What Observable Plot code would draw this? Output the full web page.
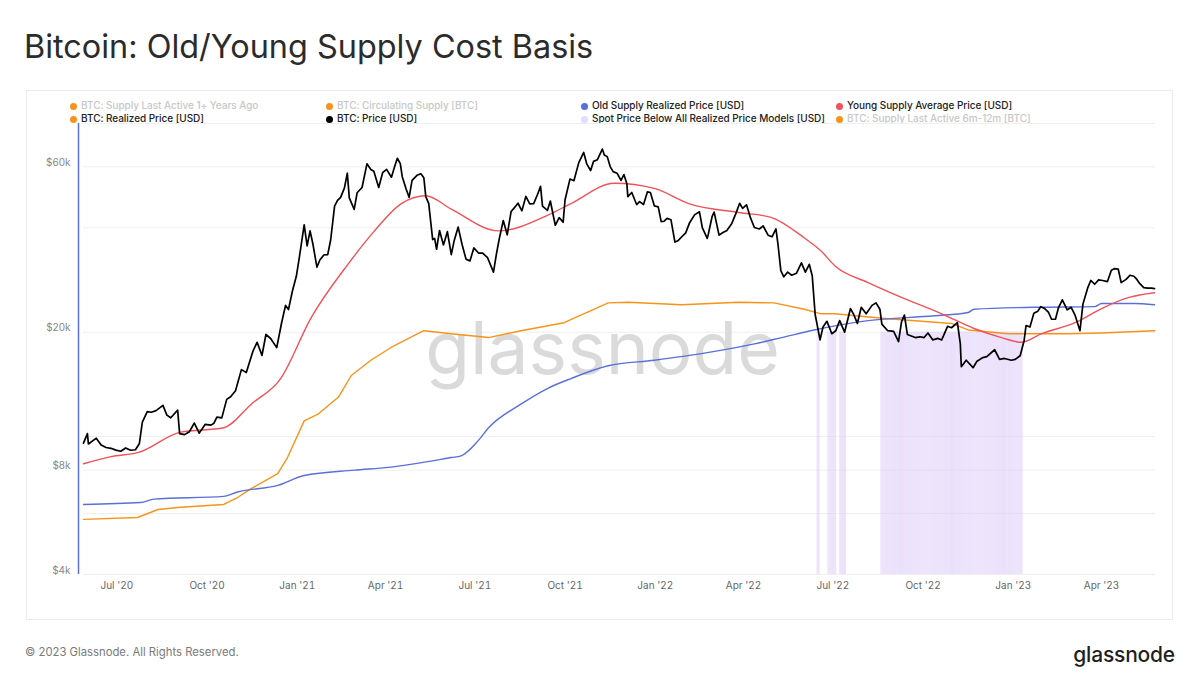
<!DOCTYPE html>
<html>
<head>
<meta charset="utf-8">
<script src="https://cdn.jsdelivr.net/npm/d3@7"></script>
<script src="https://cdn.jsdelivr.net/npm/@observablehq/plot@0.6"></script>
<style>
  html, body { margin: 0; padding: 0; background: #fff; }
  body { width: 1200px; height: 691px; position: relative; overflow: hidden; font-family: Inter, "Noto Sans", sans-serif; }
  #title { position: absolute; left: 24px; top: 28px; font-size: 32.4px; line-height: 38px; color: #2b2b2b; font-weight: 400; white-space: nowrap; }
  #box { position: absolute; left: 26px; top: 90px; width: 1147px; height: 530px; border: 1px solid #ebebeb; box-sizing: border-box; }
  #legend { position: absolute; left: 0; top: 0; }
  .li { position: absolute; font-size: 10px; line-height: 12px; font-weight: 500; white-space: nowrap; color: #222; letter-spacing: -0.05px; }
  .li.off { color: #c8c8c8; font-weight: 500; }
  .dot { display: inline-block; width: 7px; height: 7px; border-radius: 50%; margin-right: 4px; vertical-align: -0.5px; }
  #chart { position: absolute; left: 0; top: 110px; }
  #foot { position: absolute; left: 25px; top: 644px; font-size: 11.3px; line-height: 16px; color: #7a7a7a; }
  #logo { position: absolute; right: 25px; top: 641px; font-size: 21px; line-height: 28px; color: #1f1f1f; font-weight: 500; letter-spacing: -0.2px; }
</style>
</head>
<body>
<div id="title">Bitcoin: Old/Young Supply Cost Basis</div>
<div id="box"></div>
<div id="legend"></div>
<div id="chart"></div>
<div id="foot">© 2023 Glassnode. All Rights Reserved.</div>
<div id="logo">glassnode</div>
<script>
// ---------- data ----------
const price = [
["2020-05-28",9575],["2020-06-01",10200],["2020-06-02",9520],["2020-06-07",9750],["2020-06-10",9890],["2020-06-15",9450],
["2020-06-20",9300],["2020-06-25",9250],["2020-06-30",9140],["2020-07-05",9070],["2020-07-10",9270],["2020-07-15",9130],
["2020-07-20",9160],["2020-07-24",9550],["2020-07-27",11000],["2020-08-01",11800],["2020-08-05",11750],["2020-08-10",11880],
["2020-08-17",12300],["2020-08-21",11530],["2020-08-25",11330],["2020-09-01",11920],["2020-09-03",10200],["2020-09-08",10130],
["2020-09-13",10330],["2020-09-18",10940],["2020-09-23",10230],["2020-09-29",10840],["2020-10-05",10790],["2020-10-08",10930],
["2020-10-11",11380],["2020-10-16",11320],["2020-10-21",12800],["2020-10-25",13030],["2020-10-30",13550],["2020-11-05",15600],
["2020-11-10",15300],["2020-11-13",16300],["2020-11-17",17700],["2020-11-21",18700],["2020-11-26",17150],["2020-11-30",19700],
["2020-12-05",19150],["2020-12-11",18050],["2020-12-16",21300],["2020-12-20",23900],["2020-12-23",23240],["2020-12-27",26300],
["2020-12-31",29000],["2021-01-03",32780],["2021-01-08",40800],["2021-01-11",35500],["2021-01-14",39200],["2021-01-17",35800],
["2021-01-21",30800],["2021-01-24",32300],["2021-01-28",33400],["2021-02-01",33500],["2021-02-04",36900],["2021-02-08",46200],
["2021-02-11",48000],["2021-02-14",48900],["2021-02-18",52100],["2021-02-21",57500],["2021-02-23",48800],["2021-02-28",45200],
["2021-03-03",50500],["2021-03-08",52300],["2021-03-13",61200],["2021-03-17",58900],["2021-03-20",58300],["2021-03-25",52300],
["2021-03-29",57700],["2021-04-02",59000],["2021-04-07",56000],["2021-04-10",59800],["2021-04-13",63500],["2021-04-16",61300],
["2021-04-18",56200],["2021-04-22",51700],["2021-04-25",49000],["2021-04-28",54800],["2021-05-03",56700],["2021-05-07",57300],
["2021-05-10",55800],["2021-05-12",49200],["2021-05-15",47000],["2021-05-19",37000],["2021-05-21",37300],["2021-05-23",34700],
["2021-05-26",39300],["2021-05-30",35700],["2021-06-03",39000],["2021-06-07",33500],["2021-06-10",36800],["2021-06-14",40200],
["2021-06-18",35800],["2021-06-22",32500],["2021-06-26",32100],["2021-06-30",35000],["2021-07-05",33800],["2021-07-09",33800],
["2021-07-14",32800],["2021-07-20",29800],["2021-07-23",33600],["2021-07-26",37300],["2021-07-30",42000],["2021-08-03",38200],
["2021-08-07",44600],["2021-08-10",45600],["2021-08-14",47100],["2021-08-18",44800],["2021-08-22",49300],["2021-08-26",46900],
["2021-08-30",47000],["2021-09-03",50000],["2021-09-06",52700],["2021-09-08",46200],["2021-09-13",44900],["2021-09-16",47800],
["2021-09-21",40700],["2021-09-25",42800],["2021-09-29",41500],["2021-10-01",48200],["2021-10-06",55300],["2021-10-10",54700],
["2021-10-15",61700],["2021-10-20",66000],["2021-10-23",61300],["2021-10-27",58500],["2021-10-30",62200],["2021-11-03",62900],
["2021-11-08",67500],["2021-11-10",64900],["2021-11-13",64200],["2021-11-16",60100],["2021-11-19",58100],["2021-11-23",57500],
["2021-11-27",54800],["2021-11-30",57000],["2021-12-03",53600],["2021-12-04",49200],["2021-12-08",50600],["2021-12-13",46700],
["2021-12-16",47600],["2021-12-20",46700],["2021-12-24",50800],["2021-12-27",50600],["2021-12-31",46300],["2022-01-04",46000],
["2022-01-07",41700],["2022-01-10",41800],["2022-01-13",42600],["2022-01-17",42200],["2022-01-21",36400],["2022-01-24",36700],
["2022-01-28",37700],["2022-02-01",38700],["2022-02-05",41400],["2022-02-10",43600],["2022-02-15",44500],["2022-02-18",40000],
["2022-02-23",37300],["2022-02-24",38300],["2022-02-28",43200],["2022-03-02",44400],["2022-03-07",38100],["2022-03-11",38800],
["2022-03-15",39300],["2022-03-20",41200],["2022-03-24",43900],["2022-03-28",47100],["2022-03-31",45500],["2022-04-04",46600],
["2022-04-08",42800],["2022-04-12",40100],["2022-04-17",39700],["2022-04-21",40500],["2022-04-26",38100],["2022-04-30",37700],
["2022-05-04",39700],["2022-05-06",36000],["2022-05-09",30100],["2022-05-12",28900],["2022-05-16",29800],["2022-05-20",29200],
["2022-05-25",29600],["2022-05-30",31700],["2022-06-03",29800],["2022-06-07",31400],["2022-06-10",29100],["2022-06-13",22500],
["2022-06-18",19000],["2022-06-21",20700],["2022-06-25",21500],["2022-06-30",19800],["2022-07-04",20200],["2022-07-08",21600],
["2022-07-13",20000],["2022-07-19",23400],["2022-07-22",22600],["2022-07-26",21200],["2022-07-30",23600],["2022-08-04",22600],
["2022-08-10",23900],["2022-08-14",24300],["2022-08-18",23300],["2022-08-20",21100],["2022-08-26",20200],["2022-09-01",20100],
["2022-09-06",18800],["2022-09-09",21400],["2022-09-12",22400],["2022-09-15",19700],["2022-09-19",19500],["2022-09-23",19300],
["2022-09-28",19400],["2022-10-02",19300],["2022-10-06",19900],["2022-10-11",19000],["2022-10-16",19200],["2022-10-20",19000],
["2022-10-26",20800],["2022-10-30",20600],["2022-11-05",21300],["2022-11-08",18500],["2022-11-09",15900],["2022-11-14",16600],
["2022-11-21",15800],["2022-11-25",16500],["2022-12-01",16900],["2022-12-05",17000],["2022-12-13",17800],["2022-12-18",16700],
["2022-12-23",16800],["2022-12-30",16600],["2023-01-03",16700],["2023-01-08",17100],["2023-01-12",18900],["2023-01-14",20900],
["2023-01-18",20700],["2023-01-22",22700],["2023-01-26",23000],["2023-01-29",23700],["2023-02-02",23400],["2023-02-06",22800],
["2023-02-09",21800],["2023-02-13",21800],["2023-02-16",23500],["2023-02-20",24800],["2023-02-25",23200],["2023-03-01",23600],
["2023-03-05",22400],["2023-03-10",20200],["2023-03-13",24100],["2023-03-18",26900],["2023-03-21",28200],["2023-03-25",27500],
["2023-03-29",28300],["2023-04-02",28200],["2023-04-07",28000],["2023-04-11",30200],["2023-04-14",30500],["2023-04-18",30400],
["2023-04-21",27800],["2023-04-26",28400],["2023-04-30",29200],["2023-05-04",29000],["2023-05-07",28400],["2023-05-10",27600],
["2023-05-14",26900],["2023-05-18",26800],["2023-05-22",26800],["2023-05-25",26700]
];

const youngAvg = [
["2020-05-28",8350],["2020-06-25",8750],["2020-07-23",9000],["2020-09-04",10300],["2020-10-18",10600],["2020-11-15",12400],
["2020-12-15",14700],["2021-01-15",22000],["2021-02-22",31500],["2021-03-20",39000],["2021-04-17",47000],["2021-05-12",49500],
["2021-06-07",45300],["2021-07-25",39200],["2021-09-14",43600],["2021-10-07",47000],["2021-11-20",53800],["2021-12-31",52000],
["2022-02-04",47000],["2022-03-27",44300],["2022-04-29",42900],["2022-06-02",37400],["2022-06-19",34300],["2022-07-03",31100],
["2022-08-06",27800],["2022-09-09",25200],["2022-10-20",22600],["2022-11-22",20500],["2022-12-20",19300],["2023-01-09",18700],
["2023-01-30",19800],["2023-03-05",21300],["2023-04-01",23400],["2023-04-29",25200],["2023-05-25",26000]
];

const realized = [
["2020-05-28",5770],["2020-07-22",5840],["2020-08-12",6160],["2020-09-04",6250],["2020-10-18",6370],["2020-11-01",6670],
["2020-11-15",7080],["2020-12-12",7820],["2020-12-22",8700],["2021-01-08",11100],["2021-01-22",11600],["2021-02-12",13000],
["2021-02-25",15000],["2021-03-17",16600],["2021-04-07",18100],["2021-05-10",20200],["2021-06-07",19800],["2021-07-15",19300],
["2021-08-17",20200],["2021-09-30",21300],["2021-11-14",24300],["2021-12-04",24400],["2022-01-28",24000],["2022-03-27",24400],
["2022-05-02",24300],["2022-06-02",23300],["2022-06-19",22600],["2022-07-03",22600],["2022-08-23",21900],["2022-10-30",21200],
["2022-11-16",20300],["2022-12-27",19800],["2023-02-26",19800],["2023-04-01",19900],["2023-05-25",20200]
];

const oldRealized = [
["2020-05-28",6370],["2020-07-25",6450],["2020-08-08",6600],["2020-10-18",6720],["2020-11-01",6920],["2020-12-12",7230],
["2021-01-08",7720],["2021-02-28",8000],["2021-04-04",8150],["2021-06-07",8700],["2021-06-17",8800],["2021-07-04",9700],
["2021-07-15",10600],["2021-08-17",12400],["2021-09-14",13800],["2021-10-07",14700],["2021-11-14",16000],["2021-12-31",16600],
["2022-02-20",17400],["2022-04-12",18500],["2022-05-10",19300],["2022-06-12",20300],["2022-08-06",21600],["2022-10-13",22300],
["2022-11-16",22800],["2022-11-22",23300],["2023-01-23",23600],["2023-03-25",23700],["2023-04-01",24200],["2023-05-04",24200],
["2023-05-25",24000]
];

// periods where spot price was below all realized price models
const belowRanges = [
["2022-06-15","2022-06-17"],["2022-06-26","2022-07-04"],["2022-07-08","2022-07-14"],
["2022-08-19","2023-01-10"]
];
const belowBarTop = 20000;

const xDomain = ["2020-05-28","2023-05-26"];
const xTicks = ["2020-07-01","2020-10-01","2021-01-01","2021-04-01","2021-07-01","2021-10-01",
                "2022-01-01","2022-04-01","2022-07-01","2022-10-01","2023-01-01","2023-04-01"];
const yDomain = [4000, 80000];
const yGrid = [4000, 6000, 8000, 10000, 20000, 40000, 60000, 80000];
const yLabels = [4000, 8000, 20000, 60000];

// ---------- legend ----------
const legendItems = [
  {label: "BTC: Supply Last Active 1+ Years Ago", color: "#f7931a", off: true, col: 0, row: 0},
  {label: "BTC: Circulating Supply [BTC]", color: "#f7931a", off: true, col: 1, row: 0},
  {label: "Old Supply Realized Price [USD]", color: "#5b6fd9", off: false, col: 2, row: 0},
  {label: "Young Supply Average Price [USD]", color: "#f0525a", off: false, col: 3, row: 0},
  {label: "BTC: Realized Price [USD]", color: "#f7931a", off: false, col: 0, row: 1},
  {label: "BTC: Price [USD]", color: "#000000", off: false, col: 1, row: 1},
  {label: "Spot Price Below All Realized Price Models [USD]", color: "#e6dbfc", off: false, col: 2, row: 1},
  {label: "BTC: Supply Last Active 6m-12m [BTC]", color: "#f7931a", off: true, col: 3, row: 1}
];
const colX = [70, 326, 581, 836];
const rowY = [99, 112];
const lg = document.getElementById("legend");
for (const it of legendItems) {
  const d = document.createElement("div");
  d.className = "li" + (it.off ? " off" : "");
  d.style.left = colX[it.col] + "px";
  d.style.top = rowY[it.row] + "px";
  d.innerHTML = `<span class="dot" style="background:${it.color}"></span>`;
  d.appendChild(document.createTextNode(it.label));
  lg.appendChild(d);
}

// ---------- chart ----------
const parse = d3.utcParse("%Y-%m-%d");
const toRows = arr => arr.map(([d, v]) => ({date: parse(d), value: v}));
const priceRows = toRows(price);
const youngRows = toRows(youngAvg);
const realRows = toRows(realized);
const oldRows = toRows(oldRealized);
const barDays = belowRanges.flatMap(([a, b]) => d3.utcDay.range(parse(a), d3.utcDay.offset(parse(b), 1)));
const fmtMoney = v => "$" + (v / 1000) + "k";
const fmtDate = d3.utcFormat("%b '%y");
const x0 = parse(xDomain[0]);

const chart = Plot.plot({
  width: 1200,
  height: 500,
  marginLeft: 83,
  marginRight: 45,
  marginTop: 13,
  marginBottom: 36,
  style: {fontFamily: "Inter, 'Noto Sans', sans-serif", background: "transparent", overflow: "visible"},
  x: {type: "utc", domain: xDomain.map(parse), label: null, axis: null},
  y: {type: "log", domain: yDomain, label: null, axis: null},
  marks: [
    Plot.ruleY(yGrid, {stroke: "#efefef", strokeWidth: 1}),
    Plot.text(["glassnode"], {frameAnchor: "middle", dx: -17, dy: 2, fontSize: 73, fontWeight: 400, fill: "#dadada", letterSpacing: -0.5}),
    Plot.ruleX(barDays, {x: d => d, y1: yDomain[0], y2: belowBarTop, stroke: "#ddcdfa", strokeWidth: 0.6}),
    Plot.line(realRows, {x: "date", y: "value", stroke: "#f7931a", strokeWidth: 1.4}),
    Plot.line(oldRows, {x: "date", y: "value", stroke: "#5b6fd9", strokeWidth: 1.4, curve: "monotone-x"}),
    Plot.line(youngRows, {x: "date", y: "value", stroke: "#f0525a", strokeWidth: 1.4, curve: "monotone-x"}),
    Plot.line(priceRows, {x: "date", y: "value", stroke: "#000000", strokeWidth: 1.7}),
    Plot.ruleX([x0], {y1: yDomain[0], y2: yDomain[1], stroke: "#5b6fd9", strokeWidth: 1.5, dx: -5}),
    ...yLabels.map(v => Plot.text([v], {x: () => x0, y: d => d, text: d => fmtMoney(d), textAnchor: "end", dx: -13, dy: -4, fontSize: 10, fill: "#888888"})),
    Plot.axisX({ticks: xTicks.map(parse), tickFormat: fmtDate, tickSize: 0, tickPadding: 7, fontSize: 10, color: "#666666", label: null})
  ]
});
document.getElementById("chart").appendChild(chart);
</script>
</body>
</html>
